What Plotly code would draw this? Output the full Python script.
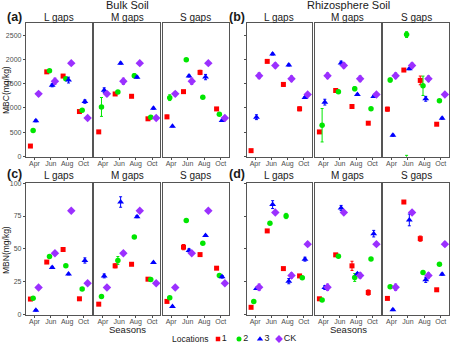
import plotly.graph_objects as go

months = ["Apr", "Jun", "Aug", "Oct"]
locations = ["1", "2", "3", "CK"]
gaps = ["L gaps", "M gaps", "S gaps"]

# ---- MBC, bulk soil (rows: loc 1, 2, 3, CK; cols: Apr, Jun, Aug, Oct)
mbc_bulk_L = [[212, 1745, 1658, 925], [534, 1770, 1600, 952], [733, 1466, 1575, 1130], [1290, 1550, 1925, 790]]
mbc_bulk_M = [[505, 1288, 1240, 775], [1020, 1330, 1665, 808], [1365, 1925, 1635, 993], [1290, 1550, 1925, 790]]
mbc_bulk_S = [[815, 1336, 1733, 979], [1212, 1993, 1219, 870], [623, 1658, 1637, 740], [1290, 1550, 1925, 790]]
mbc_bulk_L_err = [[20, 20, 20, 20], [15, 15, 15, 15], [20, 30, 60, 35], [40, 65, 20, 20]]
mbc_bulk_M_err = [[15, 30, 15, 15], [195, 20, 40, 15], [50, 20, 20, 20], [40, 65, 20, 20]]
mbc_bulk_S_err = [[35, 15, 45, 20], [60, 15, 15, 15], [15, 20, 55, 15], [40, 65, 20, 20]]

# ---- MBC, rhizosphere soil
mbc_rhizo_L = [[117, 1961, 1485, 981], [None, None, None, None], [808, 2113, 1885, 1215], [1664, 1878, 1602, 1278]]
mbc_rhizo_M = [[504, 1360, 1029, 684], [642, 1333, 1395, 981], [1119, 1927, 1278, 1236], [1664, 1878, 1602, 1278]]
mbc_rhizo_S = [[974, 1782, 1568, 663], [1575, 2514, 1457, 1146], [435, 1809, 1188, 787], [1664, 1878, 1602, 1278]]
mbc_rhizo_L_err = [[15, 20, 40, 40], [0, 0, 0, 0], [50, 20, 20, 20], [60, 50, 60, 20]]
mbc_rhizo_M_err = [[30, 20, 40, 15], [345, 30, 40, 20], [60, 40, 20, 20], [60, 50, 60, 20]]
mbc_rhizo_S_err = [[40, 15, 90, 15], [40, 60, 200, 20], [20, 20, 50, 20], [60, 50, 60, 20]]
# stray location-2 value drawn below the axis in Rhizosphere S gaps, June
mbc_rhizo_S_extra = -110
mbc_rhizo_S_extra_err = 130

# ---- MBN, bulk soil
mbn_bulk_L = [[11.5, 39.8, 49.4, 11.7], [12.2, 44, 37, 19.2], [2.9, 35.7, 30.6, 41], [20.3, 46.6, 79, 23.6]]
mbn_bulk_M = [[7.6, 36.9, 38.1, 26.7], [13.5, 41, 59, 26.5], [29.2, 85.7, 74.5, 39.4], [20.3, 46.6, 79, 23.6]]
mbn_bulk_S = [[9.7, 51.2, 45.5, 35.1], [12.6, 71.5, 54.2, 29.6], [5.8, 48.7, 60.1, 28.5], [20.3, 46.6, 79, 23.6]]
mbn_bulk_L_err = [[0.8, 0.8, 1.5, 0.8], [0.6, 0.6, 0.6, 0.6], [0.6, 0.8, 0.6, 2], [1.5, 1, 0.6, 0.8]]
mbn_bulk_M_err = [[0.6, 1.5, 0.6, 0.6], [0.6, 3, 0.6, 0.6], [1.5, 4, 0.8, 0.6], [1.5, 1, 0.6, 0.8]]
mbn_bulk_S_err = [[0.8, 2, 0.8, 0.6], [0.8, 0.6, 0.6, 0.6], [0.6, 1.2, 0.6, 1], [1.5, 1, 0.6, 0.8]]

# ---- MBN, rhizosphere soil
mbn_rhizo_L = [[5.2, 63.6, 34.8, 29.2], [9.7, 69.4, 75, 27.7], [19.6, 83.7, 25.2, 42], [20.5, 77.6, 29.5, 53.5]]
mbn_rhizo_M = [[11.7, 45.3, 36.9, 16.5], [10.7, 44.2, 28, 42.2], [20.3, 81.1, 30.8, 61.5], [20.5, 77.6, 29.5, 53.5]]
mbn_rhizo_S = [[12, 85.7, 57.7, 18.6], [20.9, None, 31.8, 38.1], [3.3, 72, 26.2, 30.5], [20.5, 77.6, 29.5, 53.5]]
mbn_rhizo_L_err = [[0.6, 0.6, 0.8, 0.8], [0.6, 0.8, 2, 0.6], [0.8, 3, 2, 1.5], [2.5, 0.8, 2, 1.5]]
mbn_rhizo_M_err = [[0.6, 0.8, 3.5, 2], [0.6, 1, 3, 0.8], [1.5, 2, 0.8, 2.5], [2.5, 0.8, 2, 1.5]]
mbn_rhizo_S_err = [[0.6, 0.8, 2, 1], [0.8, 0, 0.8, 0.8], [0.6, 4.5, 2, 0.8], [2.5, 0.8, 2, 1.5]]

# ---------------- styling ----------------
W, H = 450, 344
FONT = "Liberation Sans, Arial, sans-serif"
colors = ["#FF0000", "#00E600", "#0000FF", "#9B30FF"]
symbols = ["square", "circle", "triangle-up", "diamond"]
msizes = [5, 5.5, 6, 6.5]
dodge = [-0.25, -0.083, 0.083, 0.25]
axis_col = "#555555"
tick_col = "#4d4d4d"

facet_x = {0: [(26, 91.7), (94.3, 160.3), (162.5, 229)],
           1: [(246.7, 311.7), (315, 380.5), (383, 449)]}
row_y = {0: (23, 156.8), 1: (183.3, 314.5)}
strip_y = {0: 17.5, 1: 175}
row_range = {0: [-10, 2754], 1: [-0.3, 100]}
row_ticks = {0: [0, 500, 1000, 1500, 2000, 2500], 1: [0, 25, 50, 75, 100]}

panels = [
    (0, 0, [mbc_bulk_L, mbc_bulk_M, mbc_bulk_S], [mbc_bulk_L_err, mbc_bulk_M_err, mbc_bulk_S_err]),
    (0, 1, [mbc_rhizo_L, mbc_rhizo_M, mbc_rhizo_S], [mbc_rhizo_L_err, mbc_rhizo_M_err, mbc_rhizo_S_err]),
    (1, 0, [mbn_bulk_L, mbn_bulk_M, mbn_bulk_S], [mbn_bulk_L_err, mbn_bulk_M_err, mbn_bulk_S_err]),
    (1, 1, [mbn_rhizo_L, mbn_rhizo_M, mbn_rhizo_S], [mbn_rhizo_L_err, mbn_rhizo_M_err, mbn_rhizo_S_err]),
]

fig = go.Figure()
layout = {}
annotations = []


def ann(text, xpx, ypx, size, bold=False, angle=0, color="#1a1a1a"):
    annotations.append(dict(text=f"<b>{text}</b>" if bold else text,
                            x=xpx / W, y=1 - ypx / H, xref="paper", yref="paper",
                            xanchor="center", yanchor="middle",
                            showarrow=False, textangle=angle,
                            font=dict(size=size, color=color, family=FONT)))


k = 0
xpos = [1, 2, 3, 4]
for row, col, datas, errs in panels:
    top, bot = row_y[row]
    for g in range(3):
        k += 1
        x0, x1 = facet_x[col][g]
        layout[f"xaxis{k}"] = dict(
            domain=[x0 / W, x1 / W], anchor=f"y{k}", range=[0.48, 4.5],
            tickvals=xpos, ticktext=months, showline=True, mirror=True,
            linecolor=axis_col, linewidth=1.3, ticks="outside", ticklen=2,
            ticklabelstandoff=-2,
            tickcolor=tick_col, tickfont=dict(size=7, color=tick_col, family=FONT),
            showgrid=False, zeroline=False, fixedrange=True, automargin=False)
        ydict = dict(
            domain=[1 - bot / H, 1 - top / H], anchor=f"x{k}", range=row_range[row],
            showline=True, mirror=True, linecolor=axis_col, linewidth=1.3,
            showgrid=False, zeroline=False, fixedrange=True, automargin=False)
        if g == 0:
            ydict.update(tickvals=row_ticks[row], ticks="outside", ticklen=2,
                         tickcolor=tick_col,
                         tickfont=dict(size=7, color=tick_col, family=FONT),
                         showticklabels=(col == 0))
        else:
            ydict.update(showticklabels=False, ticks="")
        layout[f"yaxis{k}"] = ydict
        for j in range(4):
            fig.add_trace(go.Scatter(
                x=[m + dodge[j] for m in xpos], y=datas[g][j],
                mode="markers", xaxis=f"x{k}", yaxis=f"y{k}", showlegend=False,
                marker=dict(symbol=symbols[j], size=msizes[j], color=colors[j]),
                error_y=dict(type="data", array=errs[g][j], color=colors[j],
                             thickness=1, width=1.5),
                cliponaxis=False))
        if row == 0 and col == 1 and g == 2:
            fig.add_trace(go.Scatter(
                x=[2 + dodge[1]], y=[mbc_rhizo_S_extra], mode="markers",
                xaxis=f"x{k}", yaxis=f"y{k}", showlegend=False,
                marker=dict(symbol=symbols[1], size=msizes[1], color=colors[1]),
                error_y=dict(type="data", array=[mbc_rhizo_S_extra_err], color=colors[1],
                             thickness=1, width=1.5),
                cliponaxis=False))
        # strip label
        ann(gaps[g], (x0 + x1) / 2, strip_y[row], 10)

# legend axis (positions in pixels along the bottom strip)
legend_x = [218, 239, 260, 279]
layout["xaxis13"] = dict(domain=[0, 1], anchor="y13", range=[0, W], visible=False, fixedrange=True)
layout["yaxis13"] = dict(domain=[2 / H, 8 / H], anchor="x13", range=[-1, 1], visible=False, fixedrange=True)
for j in range(4):
    fig.add_trace(go.Scatter(
        x=[legend_x[j]], y=[0], mode="markers+text", text=[locations[j]],
        textposition="middle right", xaxis="x13", yaxis="y13", showlegend=False,
        marker=dict(symbol=symbols[j], size=msizes[j] - 0.5, color=colors[j]),
        textfont=dict(size=9, color="#1a1a1a", family=FONT), cliponaxis=False))

ann("Bulk Soil", 127.5, 5, 11)
ann("Rhizosphere Soil", 348, 5, 11)
ann("(a)", 14, 17, 12.5, bold=True)
ann("(b)", 237, 17, 12.5, bold=True)
ann("(c)", 14, 174, 12.5, bold=True)
ann("(d)", 237, 174, 12.5, bold=True)
ann("MBC(mg/kg)", 6, 90, 8.5, angle=-90)
ann("MBN(mg/kg)", 6, 250, 8.5, angle=-90)
ann("Seasons", 127.5, 329, 9.5)
ann("Seasons", 348, 329, 9.5)
ann("Locations", 190, 339, 8.5)

fig.update_layout(width=W, height=H, margin=dict(l=0, r=0, t=0, b=0, pad=0),
                  paper_bgcolor="white", plot_bgcolor="white",
                  annotations=annotations, showlegend=False,
                  font=dict(family=FONT), **layout)
fig.write_html("out.html")
